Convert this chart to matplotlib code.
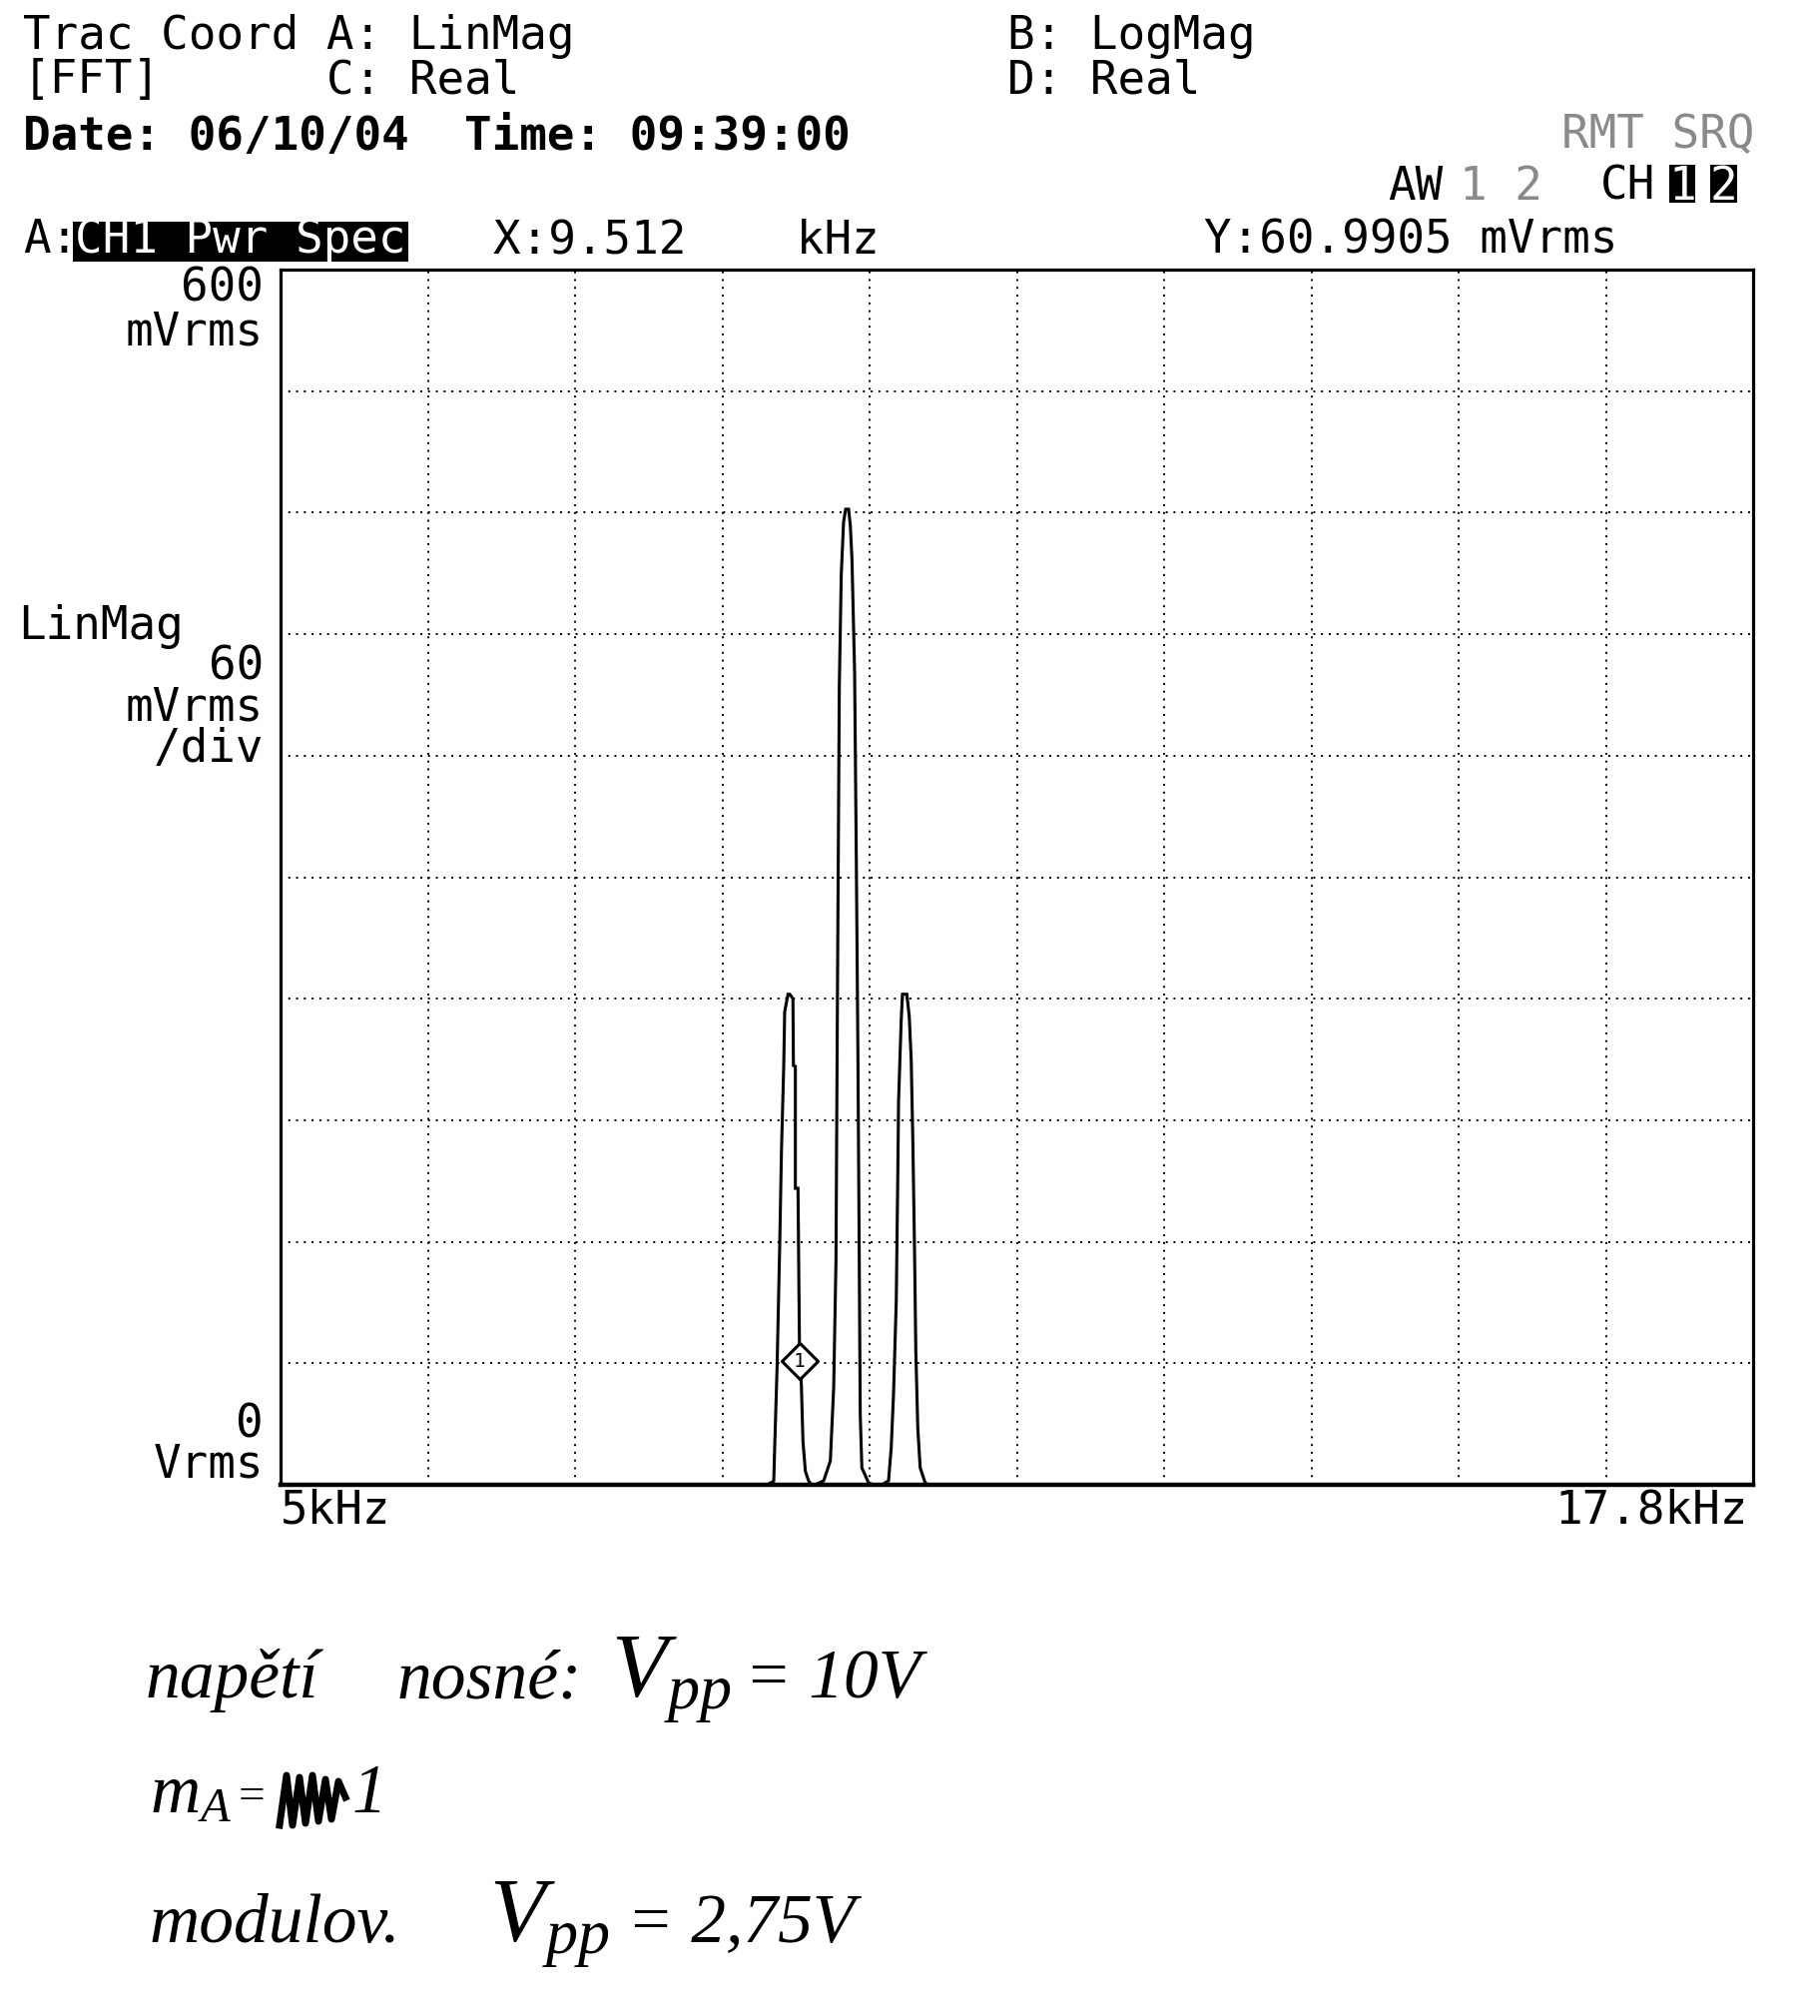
import numpy as np
import matplotlib.pyplot as plt
from matplotlib.patches import Rectangle
from matplotlib.lines import Line2D

# ---------------- analyzer settings ----------------
f_start = 5.0        # [kHz]
f_stop = 17.8        # [kHz]
ref_level = 600.0    # [mVrms]
per_div = 60.0       # [mVrms/div]
n_div = 10

# ---------------- traced spectrum (CH1 power spectrum, LinMag) ----------------
# lower side band
lsb_khz = [9.229, 9.287, 9.296, 9.316, 9.339, 9.354, 9.374, 9.382, 9.411, 9.426,
           9.454, 9.458, 9.475, 9.475, 9.498, 9.507, 9.512, 9.527, 9.541, 9.562, 9.591, 9.617]
lsb_mv = [0.0, 1.8, 19.9, 57.7, 118.5, 164.5, 207.0, 233.5, 242.2, 242.2,
          240.0, 207.0, 206.6, 146.4, 146.4, 90.6, 61.0, 49.5, 21.5, 6.7, 1.8, 0.0]

# carrier
car_khz = [9.649, 9.721, 9.779, 9.808, 9.828, 9.842, 9.857, 9.874, 9.894, 9.912, 9.938,
           9.953, 9.967, 9.990, 10.005, 10.019, 10.039, 10.053, 10.111, 10.155]
car_mv = [0.0, 2.0, 11.8, 47.8, 110.4, 253.4, 394.4, 449.6, 475.3, 481.7, 481.7,
          473.4, 457.0, 401.3, 307.6, 210.5, 34.5, 8.4, 1.0, 0.0]

# upper side band
usb_khz = [10.227, 10.285, 10.308, 10.328, 10.352, 10.366, 10.372, 10.395, 10.406, 10.444,
           10.465, 10.482, 10.496, 10.511, 10.522, 10.539, 10.560, 10.603, 10.632]
usb_mv = [0.0, 2.0, 18.2, 44.4, 90.7, 156.0, 189.3, 229.4, 242.2, 242.2,
          231.2, 209.7, 170.2, 115.4, 66.1, 28.1, 8.4, 1.0, 0.0]

# marker readout
marker_khz = 9.512
marker_mv = 60.9905

trace_khz = [f_start] + lsb_khz + car_khz + usb_khz + [f_stop]
trace_mv = [0.0] + lsb_mv + car_mv + usb_mv + [0.0]

# ---------------- figure ----------------
W, H = 1823, 2019
fig = plt.figure(figsize=(W / 100, H / 100), dpi=100)
fig.patch.set_facecolor('white')

plt.rcParams['mathtext.fontset'] = 'custom'
plt.rcParams['mathtext.it'] = 'Liberation Serif:italic'
plt.rcParams['mathtext.rm'] = 'Liberation Serif:italic'

MONO = 'DejaVu Sans Mono'
FS = 33


def put(x, y, s, **kw):
    """Text placed in pixel coordinates (y from top, at baseline)."""
    kw.setdefault('family', MONO)
    kw.setdefault('fontsize', FS)
    kw.setdefault('va', 'baseline')
    return fig.text(x / W, 1 - y / H, s, **kw)


def box(x0, y0, x1, y1, color='black'):
    fig.add_artist(Rectangle((x0 / W, 1 - y1 / H), (x1 - x0) / W, (y1 - y0) / H,
                             transform=fig.transFigure, facecolor=color,
                             edgecolor='none'))


# plot area
L, R, T, B = 281, 1756, 270, 1487
ax = fig.add_axes([L / W, 1 - B / H, (R - L) / W, (B - T) / H])
ax.set_xlim(f_start, f_stop)
ax.set_ylim(0, ref_level)
ax.set_xticks(np.linspace(f_start, f_stop, n_div + 1))
ax.set_yticks(np.arange(0, ref_level + per_div, per_div))
ax.tick_params(length=0, labelbottom=False, labelleft=False)
ax.grid(True, color='black', linestyle=(0, (1, 3)), linewidth=1.4)
for sp in ax.spines.values():
    sp.set_linewidth(2.3)
    sp.set_color('black')
ax.spines['bottom'].set_linewidth(3.2)

ax.plot(trace_khz, trace_mv, color='black', lw=2.2, solid_joinstyle='miter',
        clip_on=False, zorder=3)

# marker 1
diamond = [(0, 1), (1, 0), (0, -1), (-1, 0), (0, 1)]
ax.plot(marker_khz, marker_mv, marker=diamond, markersize=26, mfc='white',
        mec='black', mew=2.2, zorder=4)
ax.text(marker_khz, marker_mv, '1', family=MONO, fontsize=14, ha='center',
        va='center', zorder=5)

# ---------------- header ----------------
put(23, 49, 'Trac Coord A: LinMag')
put(1009, 49, 'B: LogMag')
put(23, 93, '[FFT]')
put(327, 93, 'C: Real')
put(1009, 93, 'D: Real')
put(23, 150, 'Date: 06/10/04  Time: 09:39:00', weight='bold')

put(1757, 148, 'RMT SRQ', ha='right', color='#8a8a8a')
put(1390, 200, 'AW')
put(1462, 200, '1 2', color='#8a8a8a')
put(1603, 200, 'CH')
box(1672, 165, 1698, 203)
box(1713, 165, 1740, 203)
put(1685, 200, '1', ha='center', color='white')
put(1726.5, 200, '2', ha='center', color='white')

put(23, 253, 'A:')
box(73, 222, 409, 262)
put(75, 253, 'CH1 Pwr Spec', color='white')
put(494, 253, f'X:{marker_khz:.3f}    kHz')
put(1206, 253, f'Y:{marker_mv:.4f} mVrms')

# ---------------- axis annotations ----------------
put(264, 302, f'{ref_level:.0f}', ha='right')
put(264, 345, 'mVrms', ha='right')
put(18, 640, 'LinMag')
put(264, 680, f'{per_div:.0f}', ha='right')
put(264, 721, 'mVrms', ha='right')
put(264, 763, '/div', ha='right')
put(264, 1439, '0', ha='right')
put(264, 1480, 'Vrms', ha='right')
put(281, 1526, f'{f_start:g}kHz')
put(1751, 1526, f'{f_stop:g}kHz', ha='right')

# ---------------- hand notes ----------------
HAND = dict(family='Liberation Serif', style='italic', fontsize=50)
put(146, 1700, 'napětí', **HAND)
put(398, 1700, 'nosné:', **HAND)
put(612, 1700, 'V$_{pp}$', family='Liberation Serif', style='italic', fontsize=66)
put(746, 1700, '= 10V', **HAND)

put(150, 1815, 'm$_A$', **HAND)
put(236, 1812, '=', family='Liberation Serif', style='italic', fontsize=34)
put(353, 1815, '1', **HAND)
zx = [280, 287, 293, 300, 306, 313, 319, 326, 332, 339, 346]
zy = [1828, 1778, 1828, 1780, 1826, 1778, 1824, 1782, 1822, 1784, 1800]
fig.add_artist(Line2D([x / W for x in zx], [1 - y / H for y in zy],
                      transform=fig.transFigure, color='black', lw=5))

put(149, 1945, 'modulov.', **HAND)
put(490, 1945, 'V$_{pp}$', family='Liberation Serif', style='italic', fontsize=66)
put(628, 1945, '= 2,75V', **HAND)

fig.savefig('out.png', dpi=100, facecolor='white')
